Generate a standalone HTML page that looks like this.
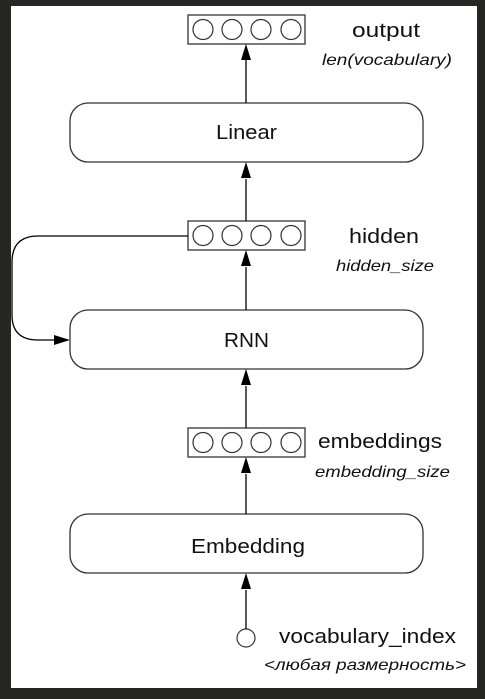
<!DOCTYPE html>
<html><head><style>
html,body{margin:0;padding:0;background:#262622;}
svg{display:block;}
text{font-family:"Liberation Sans","DejaVu Sans",sans-serif;fill:#111;}
</style></head><body>
<svg width="485" height="699" viewBox="0 0 485 699" xmlns="http://www.w3.org/2000/svg">
<rect x="11" y="6" width="466" height="682" fill="#fff"/>
<g fill="#fff" stroke="#333" stroke-width="1.3">
<rect x="188" y="15" width="117" height="29"/>
<rect x="188" y="221" width="117" height="29"/>
<rect x="188" y="428" width="117" height="29"/>
<rect x="70" y="103" width="353" height="59" rx="18"/>
<rect x="70" y="310" width="353" height="59" rx="18"/>
<rect x="70" y="514" width="353" height="59" rx="18"/>
</g>
<g fill="none" stroke="#333" stroke-width="1.2">
<circle cx="203" cy="29.5" r="10"/><circle cx="232" cy="29.5" r="10"/><circle cx="261" cy="29.5" r="10"/><circle cx="291" cy="29.5" r="10"/>
<circle cx="203" cy="235.5" r="10"/><circle cx="232" cy="235.5" r="10"/><circle cx="261" cy="235.5" r="10"/><circle cx="291" cy="235.5" r="10"/>
<circle cx="203" cy="442.5" r="10"/><circle cx="232" cy="442.5" r="10"/><circle cx="261" cy="442.5" r="10"/><circle cx="291" cy="442.5" r="10"/>
<circle cx="246" cy="638" r="9"/>
</g>
<g stroke="#000" stroke-width="1.3" fill="none">
<path d="M246,103 V60"/><path d="M246,179 V221" /><path d="M246,310 V267"/><path d="M246,428 V386"/><path d="M246,514 V474"/><path d="M246,629 V590"/>
<path d="M188,236 H38 Q12,236 12,262 V315 Q12,340 38,340 H55"/>
</g>
<g fill="#000">
<path d="M241,60 L246,44 L251,60 Z"/>
<path d="M241,178 L246,162 L251,178 Z"/>
<path d="M241,266 L246,250 L251,266 Z"/>
<path d="M241,385 L246,369 L251,385 Z"/>
<path d="M241,473 L246,457 L251,473 Z"/>
<path d="M241,589 L246,573 L251,589 Z"/>
<path d="M54,335 L70,340 L54,345 Z"/>
</g>
<text x="216" y="139" font-size="20" textLength="61" lengthAdjust="spacingAndGlyphs">Linear</text>
<text x="224" y="347" font-size="20" textLength="45" lengthAdjust="spacingAndGlyphs">RNN</text>
<text x="191" y="553" font-size="20" textLength="114" lengthAdjust="spacingAndGlyphs">Embedding</text>
<text x="352" y="37" font-size="20" textLength="68" lengthAdjust="spacingAndGlyphs">output</text>
<text x="322" y="65" font-size="16" font-style="italic" textLength="130" lengthAdjust="spacingAndGlyphs">len(vocabulary)</text>
<text x="349" y="243" font-size="20" textLength="70" lengthAdjust="spacingAndGlyphs">hidden</text>
<text x="336" y="271" font-size="16" font-style="italic" textLength="98" lengthAdjust="spacingAndGlyphs">hidden_size</text>
<text x="318" y="448" font-size="20" textLength="124" lengthAdjust="spacingAndGlyphs">embeddings</text>
<text x="315" y="477" font-size="16" font-style="italic" textLength="135" lengthAdjust="spacingAndGlyphs">embedding_size</text>
<text x="279" y="643" font-size="20" textLength="177" lengthAdjust="spacingAndGlyphs">vocabulary_index</text>
<text x="264" y="670" font-size="16" font-style="italic" textLength="202" lengthAdjust="spacingAndGlyphs">&lt;любая размерность&gt;</text>
</svg>
</body></html>
